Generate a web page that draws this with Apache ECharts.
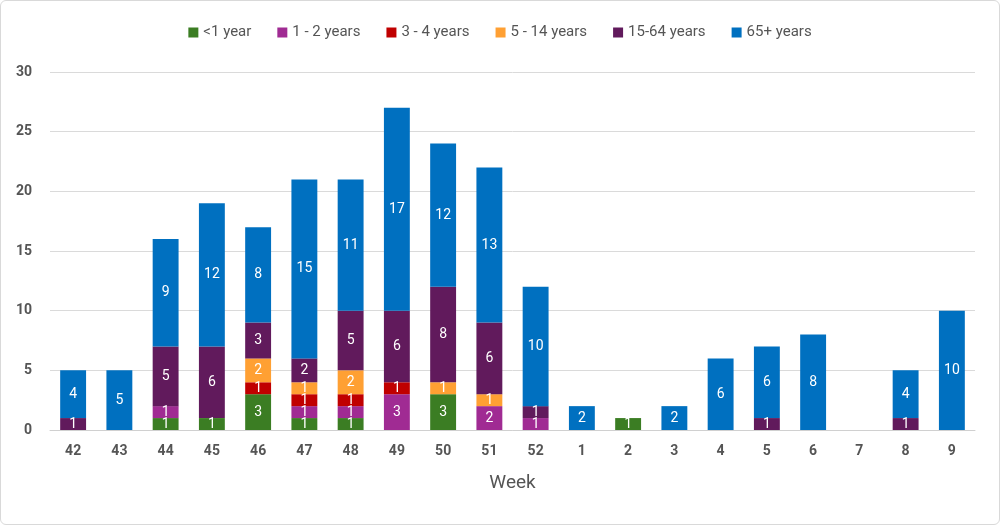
<!DOCTYPE html>
<html><head><meta charset="utf-8">
<script src="https://cdn.jsdelivr.net/npm/echarts@6/dist/echarts.min.js"></script>
<style>html,body{margin:0;padding:0;background:#fff}#wrap{position:absolute;left:0;top:0;width:998px;height:523px;border:1px solid #d9d9d9;border-radius:6px;}#c{width:1000px;height:525px;position:absolute;left:0;top:0}</style>
</head><body><div id="wrap"></div><div id="c"></div>
<script>
const weeks = ['42','43','44','45','46','47','48','49','50','51','52','1','2','3','4','5','6','7','8','9'];
const lt1   = [0,0,1,1,3,1,1,0,3,0,0,0,1,0,0,0,0,0,0,0];
const y1_2  = [0,0,1,0,0,1,1,3,0,2,1,0,0,0,0,0,0,0,0,0];
const y3_4  = [0,0,0,0,1,1,1,1,0,0,0,0,0,0,0,0,0,0,0,0];
const y5_14 = [0,0,0,0,2,1,2,0,1,1,0,0,0,0,0,0,0,0,0,0];
const y15_64= [1,0,5,6,3,2,5,6,8,6,1,0,0,0,0,1,0,0,1,0];
const y65   = [4,5,9,12,8,15,11,17,12,13,10,2,0,2,6,6,8,0,4,10];
const seriesDefs = [
  ['<1 year', lt1, '#3b7d23'],
  ['1 - 2 years', y1_2, '#a02b93'],
  ['3 - 4 years', y3_4, '#c00000'],
  ['5 - 14 years', y5_14, '#ffa033'],
  ['15-64 years', y15_64, '#611a5c'],
  ['65+ years', y65, '#0070c0']
];
const chart = echarts.init(document.getElementById('c'));
chart.setOption({
  animation:false,
  textStyle:{fontFamily:'Roboto, Liberation Sans, sans-serif'},
  legend:{top:20,left:'center',itemWidth:10,itemHeight:10,itemGap:26,icon:'rect',
    textStyle:{fontSize:15,color:'#555'}},
  grid:{left:50,right:25,top:72,bottom:95},
  xAxis:{type:'category',data:weeks,name:'Week',nameLocation:'middle',nameGap:44,
    nameTextStyle:{fontSize:19,color:'#555'},
    axisTick:{show:false},axisLine:{lineStyle:{color:'#d0d0d0'}},
    axisLabel:{fontSize:14,fontWeight:'bold',color:'#555',margin:14}},
  yAxis:{type:'value',min:0,max:30,interval:5,
    axisLabel:{fontSize:14,fontWeight:'bold',color:'#555',margin:18},
    splitLine:{lineStyle:{color:'#dadada'}}},
  series: seriesDefs.map(([n,d,c])=>({name:n,type:'bar',stack:'all',data:d,barWidth:'56%',
    itemStyle:{color:c},
    label:{show:true,position:'inside',color:'#fff',fontSize:14,
      formatter:p=>p.value>0?p.value:''}}))
});
</script></body></html>
